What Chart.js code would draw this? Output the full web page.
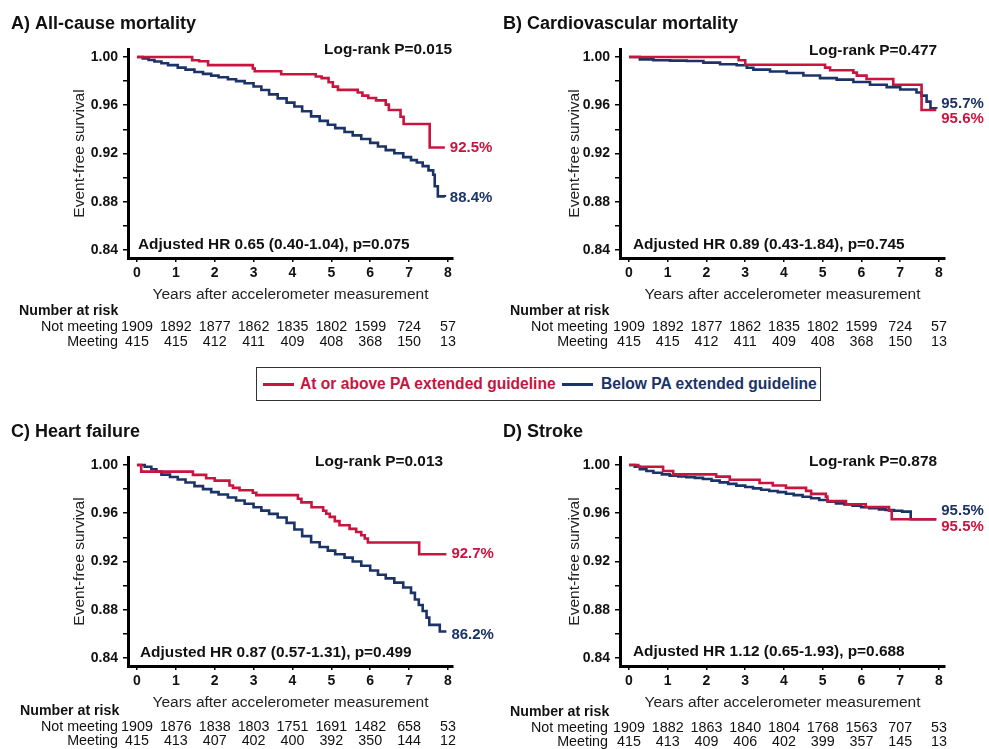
<!DOCTYPE html>
<html>
<head>
<meta charset="utf-8">
<script src="https://cdn.jsdelivr.net/npm/chart.js@4.4.1/dist/chart.umd.min.js"></script>
<style>
  body { margin: 0; background: #fff; }
  #wrap { position: relative; width: 989px; height: 749px; overflow: hidden; font-family: "Liberation Sans", Arial, sans-serif; }
  canvas { position: absolute; }
  #legend { position: absolute; left: 256px; top: 367px; width: 563px; height: 32px; border: 1.5px solid #333; box-sizing: content-box; }
  #legend .ln { position: absolute; top: 15px; height: 3px; width: 31px; }
  #legend .tx { position: absolute; top: 7px; font-weight: bold; font-size: 15.6px; white-space: nowrap; }
</style>
</head>
<body>
<div id="wrap">
  <canvas id="cA"></canvas>
  <canvas id="cB"></canvas>
  <canvas id="cC"></canvas>
  <canvas id="cD"></canvas>
  <div id="legend">
    <div class="ln" style="left:6px;background:#c8143f"></div>
    <div class="tx" style="left:43px;color:#c8143f">At or above PA extended guideline</div>
    <div class="ln" style="left:305px;background:#1b3366"></div>
    <div class="tx" style="left:344px;color:#1b3366">Below PA extended guideline</div>
  </div>
</div>
<script>
const RED = '#c8143f';
const BLUE = '#1b3366';
const FONT = '"Liberation Sans", Arial, sans-serif';

// x ticks (years) and y ticks (survival)
const yearTicks = [0, 1, 2, 3, 4, 5, 6, 7, 8];
const survTicks = [0.84, 0.86, 0.88, 0.90, 0.92, 0.94, 0.96, 0.98, 1.00];
const survLabels = ['0.84', '0.88', '0.92', '0.96', '1.00'];

// A) All-cause mortality  [years, survival]
const allCauseMeeting = [[0,1],[1.42,0.9973],[1.6,0.9965],[1.83,0.9932],[2.98,0.9905],[3.03,0.9882],[3.71,0.9857],[4.6,0.9838],[4.75,0.9825],[4.93,0.979],[5.04,0.9754],[5.17,0.9727],[5.68,0.9705],[5.8,0.968],[5.95,0.966],[6.15,0.964],[6.4,0.9605],[6.48,0.956],[6.78,0.9505],[6.86,0.9445],[7.53,0.925],[7.92,0.925]];
const allCauseNotMeeting = [[0,1],[0.15,0.9988],[0.3,0.9975],[0.45,0.9962],[0.63,0.9948],[0.8,0.9932],[1.05,0.9912],[1.25,0.9895],[1.48,0.9876],[1.7,0.986],[1.91,0.9845],[2.1,0.9832],[2.34,0.9815],[2.55,0.98],[2.77,0.9782],[3.0,0.9755],[3.2,0.9726],[3.4,0.969],[3.62,0.9657],[3.85,0.9622],[4.05,0.959],[4.25,0.955],[4.48,0.9508],[4.7,0.947],[4.91,0.9438],[5.1,0.941],[5.34,0.9378],[5.55,0.935],[5.77,0.932],[6.0,0.9288],[6.2,0.9258],[6.4,0.9228],[6.62,0.9202],[6.85,0.917],[7.05,0.9145],[7.2,0.9125],[7.35,0.9095],[7.5,0.906],[7.62,0.9024],[7.66,0.8928],[7.74,0.8845],[7.92,0.884]];
const allCauseEnds = ['92.5%', '88.4%'];
const allCauseRiskNot = [1909, 1892, 1877, 1862, 1835, 1802, 1599, 724, 57];
const allCauseRiskMeet = [415, 415, 412, 411, 409, 408, 368, 150, 13];

// B) Cardiovascular mortality
const cvMeeting = [[0,1],[2.83,0.9973],[3.0,0.9935],[5.06,0.9912],[5.19,0.989],[5.79,0.987],[5.88,0.9845],[6.13,0.9818],[6.82,0.977],[7.55,0.956],[7.93,0.956]];
const cvNotMeeting = [[0,1],[0.28,0.998],[0.63,0.9973],[1.06,0.997],[1.49,0.9967],[1.92,0.9953],[2.35,0.994],[2.78,0.9931],[3.04,0.991],[3.21,0.9895],[3.64,0.988],[4.07,0.9867],[4.5,0.9847],[4.93,0.9825],[5.36,0.9812],[5.79,0.9793],[6.22,0.977],[6.65,0.975],[7.0,0.973],[7.42,0.9705],[7.55,0.968],[7.68,0.963],[7.78,0.9575],[7.93,0.957]];
const cvEnds = ['95.6%', '95.7%'];
const cvRiskNot = [1909, 1892, 1877, 1862, 1835, 1802, 1599, 724, 57];
const cvRiskMeet = [415, 415, 412, 411, 409, 408, 368, 150, 13];

// C) Heart failure
const hfMeeting = [[0,1],[0.11,0.9945],[1.44,0.9918],[1.78,0.989],[2.0,0.987],[2.38,0.983],[2.47,0.981],[2.64,0.979],[2.98,0.977],[3.07,0.975],[4.14,0.972],[4.23,0.969],[4.49,0.965],[4.79,0.962],[4.87,0.9596],[4.96,0.957],[5.09,0.9535],[5.21,0.95],[5.47,0.947],[5.64,0.9445],[5.77,0.9417],[5.86,0.939],[5.94,0.9357],[7.26,0.926],[7.96,0.926]];
const hfNotMeeting = [[0,1],[0.2,0.9985],[0.37,0.9965],[0.5,0.9945],[0.63,0.992],[0.85,0.99],[1.05,0.988],[1.25,0.9855],[1.48,0.9825],[1.7,0.98],[1.91,0.9775],[2.1,0.9755],[2.34,0.973],[2.55,0.9705],[2.77,0.9678],[3.0,0.965],[3.2,0.9622],[3.4,0.9595],[3.62,0.9565],[3.85,0.952],[4.05,0.9465],[4.25,0.941],[4.48,0.936],[4.7,0.932],[4.91,0.929],[5.1,0.926],[5.34,0.9232],[5.55,0.92],[5.77,0.9165],[6.0,0.9125],[6.2,0.909],[6.4,0.906],[6.62,0.9025],[6.85,0.8985],[7.05,0.894],[7.15,0.8885],[7.25,0.884],[7.35,0.879],[7.45,0.8735],[7.52,0.8675],[7.79,0.862],[7.96,0.862]];
const hfEnds = ['92.7%', '86.2%'];
const hfRiskNot = [1909, 1876, 1838, 1803, 1751, 1691, 1482, 658, 53];
const hfRiskMeet = [415, 413, 407, 402, 400, 392, 350, 144, 12];

// D) Stroke
const strokeMeeting = [[0,1],[0.24,0.9985],[0.88,0.995],[1.14,0.9922],[2.25,0.9903],[2.6,0.9878],[3.37,0.985],[3.71,0.983],[4.05,0.981],[4.57,0.9785],[4.7,0.976],[5.08,0.9738],[5.12,0.970],[5.6,0.9675],[6.11,0.9652],[6.71,0.962],[6.78,0.955],[7.93,0.955]];
const strokeNotMeeting = [[0,1],[0.15,0.9985],[0.28,0.9965],[0.45,0.995],[0.63,0.9935],[0.85,0.9922],[1.05,0.9912],[1.27,0.9905],[1.48,0.9898],[1.7,0.9893],[1.91,0.9884],[2.13,0.987],[2.34,0.9856],[2.56,0.9843],[2.77,0.9829],[3.0,0.9817],[3.2,0.9806],[3.41,0.9795],[3.62,0.9784],[3.84,0.9775],[4.05,0.9762],[4.25,0.975],[4.48,0.9737],[4.7,0.9724],[4.91,0.971],[5.13,0.9695],[5.34,0.9682],[5.56,0.9672],[5.77,0.9663],[5.99,0.965],[6.2,0.9641],[6.45,0.9632],[6.62,0.9627],[6.84,0.962],[7.05,0.9613],[7.27,0.955],[7.93,0.955]];
const strokeEnds = ['95.5%', '95.5%'];
const strokeRiskNot = [1909, 1882, 1863, 1840, 1804, 1768, 1563, 707, 53];
const strokeRiskMeet = [415, 413, 409, 406, 402, 399, 357, 145, 13];

const panels = [
  { id: 'cA', left: 0, top: 0, h: 360, title: 'A) All-cause mortality', meet: allCauseMeeting, not: allCauseNotMeeting,
    ends: allCauseEnds, riskNot: allCauseRiskNot, riskMeet: allCauseRiskMeet,
    logrank: 'Log-rank P=0.015', hr: 'Adjusted HR 0.65 (0.40-1.04), p=0.075',
    areaLeft: 128, areaRight: 453, xMin: -0.23, xMax: 8.13,
    pos: { titleX: 11, lrX: 452, lrY: 50, hrX: 138, hrY: 245, narX: 19, rowR: 118, rows: [311, 327, 342], endDy: [0, 1] } },
  { id: 'cB', left: 495, top: 0, h: 360, title: 'B) Cardiovascular mortality', meet: cvMeeting, not: cvNotMeeting,
    ends: cvEnds, riskNot: cvRiskNot, riskMeet: cvRiskMeet,
    logrank: 'Log-rank P=0.477', hr: 'Adjusted HR 0.89 (0.43-1.84), p=0.745',
    areaLeft: 125, areaRight: 450, xMin: -0.232, xMax: 8.155,
    pos: { titleX: 8, lrX: 442, lrY: 51, hrX: 138, hrY: 245, narX: 15, rowR: 113, rows: [311, 327, 342], endDy: [9, -5] } },
  { id: 'cC', left: 0, top: 408, h: 341, title: 'C) Heart failure', meet: hfMeeting, not: hfNotMeeting,
    ends: hfEnds, riskNot: hfRiskNot, riskMeet: hfRiskMeet,
    logrank: 'Log-rank P=0.013', hr: 'Adjusted HR 0.87 (0.57-1.31), p=0.499',
    areaLeft: 128, areaRight: 453, xMin: -0.23, xMax: 8.13,
    pos: { titleX: 11, lrX: 443, lrY: 54, hrX: 140, hrY: 245, narX: 20, rowR: 118, rows: [303, 319, 333], endDy: [0, 3] } },
  { id: 'cD', left: 495, top: 408, h: 341, title: 'D) Stroke', meet: strokeMeeting, not: strokeNotMeeting,
    ends: strokeEnds, riskNot: strokeRiskNot, riskMeet: strokeRiskMeet,
    logrank: 'Log-rank P=0.878', hr: 'Adjusted HR 1.12 (0.65-1.93), p=0.688',
    areaLeft: 125, areaRight: 450, xMin: -0.232, xMax: 8.155,
    pos: { titleX: 8, lrX: 442, lrY: 54, hrX: 138, hrY: 244, narX: 15, rowR: 113, rows: [304, 320, 334], endDy: [8, -8] } }
];

// draws panel title, stats text, end labels and number-at-risk table
const annotate = {
  id: 'annotate',
  afterDraw(chart, args, opts) {
    const p = opts.panel;
    if (!p) return;
    const ctx = chart.ctx;
    const x = chart.scales.x;
    ctx.save();
    ctx.textBaseline = 'middle';
    ctx.fillStyle = '#111';

    ctx.font = 'bold 18px ' + FONT;
    ctx.textAlign = 'left';
    ctx.fillText(p.title, p.pos.titleX, 24);

    ctx.font = 'bold 15.4px ' + FONT;
    ctx.textAlign = 'right';
    ctx.fillText(p.logrank, p.pos.lrX, p.pos.lrY);
    ctx.textAlign = 'left';
    ctx.fillText(p.hr, p.pos.hrX, p.pos.hrY);

    // end-of-curve percentages
    ctx.font = 'bold 15px ' + FONT;
    [RED, BLUE].forEach((c, i) => {
      const pts = chart.getDatasetMeta(i).data;
      const last = pts[pts.length - 1];
      ctx.fillStyle = c;
      ctx.fillText(p.ends[i], last.x + 5, last.y + p.pos.endDy[i]);
    });

    // number at risk
    ctx.fillStyle = '#111';
    ctx.font = 'bold 14.2px ' + FONT;
    ctx.fillText('Number at risk', p.pos.narX, p.pos.rows[0]);
    ctx.font = '14.3px ' + FONT;
    ctx.textAlign = 'right';
    ctx.fillText('Not meeting', p.pos.rowR, p.pos.rows[1]);
    ctx.fillText('Meeting', p.pos.rowR, p.pos.rows[2]);
    ctx.textAlign = 'center';
    yearTicks.forEach((t, i) => {
      const px = x.getPixelForValue(t);
      ctx.fillText(String(p.riskNot[i]), px, p.pos.rows[1]);
      ctx.fillText(String(p.riskMeet[i]), px, p.pos.rows[2]);
    });
    ctx.restore();
  }
};

panels.forEach(p => {
  const cv = document.getElementById(p.id);
  cv.style.left = p.left + 'px';
  cv.style.top = p.top + 'px';
  cv.width = 494;
  cv.height = p.h;
  cv.style.width = '494px';
  cv.style.height = p.h + 'px';

  const yWidth = p.areaLeft - 66;
  new Chart(cv.getContext('2d'), {
    type: 'line',
    data: {
      datasets: [
        { label: 'At or above PA extended guideline', data: p.meet.map(d => ({ x: d[0], y: d[1] })),
          borderColor: RED, borderWidth: 2.6, stepped: 'before', pointRadius: 0, fill: false },
        { label: 'Below PA extended guideline', data: p.not.map(d => ({ x: d[0], y: d[1] })),
          borderColor: BLUE, borderWidth: 2.6, stepped: 'before', pointRadius: 0, fill: false }
      ]
    },
    options: {
      responsive: false,
      animation: false,
      layout: { padding: { left: 66, right: 494 - p.areaRight, top: 49, bottom: p.h - 304 } },
      plugins: { legend: { display: false }, tooltip: { enabled: false }, annotate: { panel: p } },
      scales: {
        x: {
          type: 'linear', min: p.xMin, max: p.xMax,
          afterBuildTicks: s => { s.ticks = yearTicks.map(v => ({ value: v })); },
          afterFit: s => { s.height = 46; },
          grid: { drawOnChartArea: false, drawTicks: true, tickLength: 4, color: '#000', lineWidth: 1.5 },
          border: { display: true, color: '#000', width: 3 },
          ticks: { color: '#111', padding: 3, font: { family: FONT, size: 14, weight: 'bold' } },
          title: { display: true, text: 'Years after accelerometer measurement', color: '#222',
                   padding: { top: 0, bottom: 0 }, font: { family: FONT, size: 15.5 } }
        },
        y: {
          type: 'linear', min: 0.8334, max: 1.0066,
          afterBuildTicks: s => { s.ticks = survTicks.map(v => ({ value: v })); },
          afterFit: s => { s.width = yWidth; },
          grid: { drawOnChartArea: false, drawTicks: true, tickLength: 5, color: '#000', lineWidth: 1.5 },
          border: { display: true, color: '#000', width: 3 },
          ticks: { color: '#111', padding: 5, font: { family: FONT, size: 14, weight: 'bold' },
                   callback: v => { const s = v.toFixed(2); return survLabels.includes(s) ? s : ''; } },
          title: { display: true, text: 'Event-free survival', color: '#222',
                   padding: { top: 4, bottom: 0 }, font: { family: FONT, size: 15.5 } }
        }
      }
    },
    plugins: [annotate]
  });
});
</script>
</body>
</html>
